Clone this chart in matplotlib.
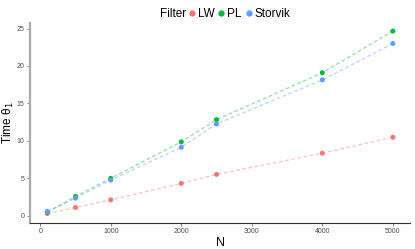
import matplotlib
matplotlib.use("Agg")
import matplotlib.pyplot as plt
from matplotlib.lines import Line2D

plt.rcParams["font.family"] = ["Liberation Sans", "DejaVu Sans"]

# values
n_vals = [100, 500, 1000, 2000, 2500, 4000, 5000]
lw = [0.32, 1.12, 2.15, 4.34, 5.54, 8.37, 10.5]
pl = [0.5, 2.6, 5.02, 9.88, 12.84, 19.1, 24.66]
storvik = [0.6, 2.38, 4.78, 9.16, 12.27, 18.15, 23.0]

series = [("LW", lw, "#F8766D"), ("PL", pl, "#00BA38"), ("Storvik", storvik, "#619CFF")]

fig = plt.figure(figsize=(4.15, 2.49), dpi=100)
ax = fig.add_axes([0.0723, 0.1056, 0.916, 0.804])

for name, vals, col in series:
    ax.plot(n_vals, vals, linestyle=(0, (3, 2)), color=col, alpha=0.45, lw=0.9)
    ax.scatter(n_vals, vals, color=col, s=13, zorder=3, edgecolors="none")

ax.set_xlim(-145, 5245)
ax.set_ylim(-0.9, 25.8)
ax.set_xticks([0, 1000, 2000, 3000, 4000, 5000])
ax.set_yticks([0, 5, 10, 15, 20, 25])
ax.tick_params(labelsize=5, colors="#4d4d4d", length=2, width=0.5, pad=2)
for lab in ax.get_xticklabels() + ax.get_yticklabels():
    lab.set_color("#4d4d4d")

for s in ["top", "right"]:
    ax.spines[s].set_visible(False)
ax.spines["left"].set_color("#aaaaaa")
ax.spines["left"].set_linewidth(1.6)
ax.spines["bottom"].set_color("#333333")
ax.spines["bottom"].set_linewidth(0.8)

ax.set_xlabel("N", fontsize=9, labelpad=1)
ax.set_ylabel("Time θ$_1$", fontsize=8.5)
ax.yaxis.set_label_coords(-0.036, 0.5)

# legend on top: title inline, then the three entries
fig.text(186 / 415, 1 - 14 / 249, "Filter", fontsize=8.5, va="center", ha="right")
handles = [Line2D([], [], marker="o", linestyle="none", color=c, markersize=3.5, label=n)
           for n, _, c in series]
fig.legend(handles=handles, loc="center left", bbox_to_anchor=(187 / 415, 1 - 14 / 249),
           ncol=3, frameon=False, fontsize=8.5, handletextpad=0.1,
           columnspacing=0.2, borderaxespad=0, borderpad=0, handlelength=0.8)

fig.savefig("out.png", dpi=100)
